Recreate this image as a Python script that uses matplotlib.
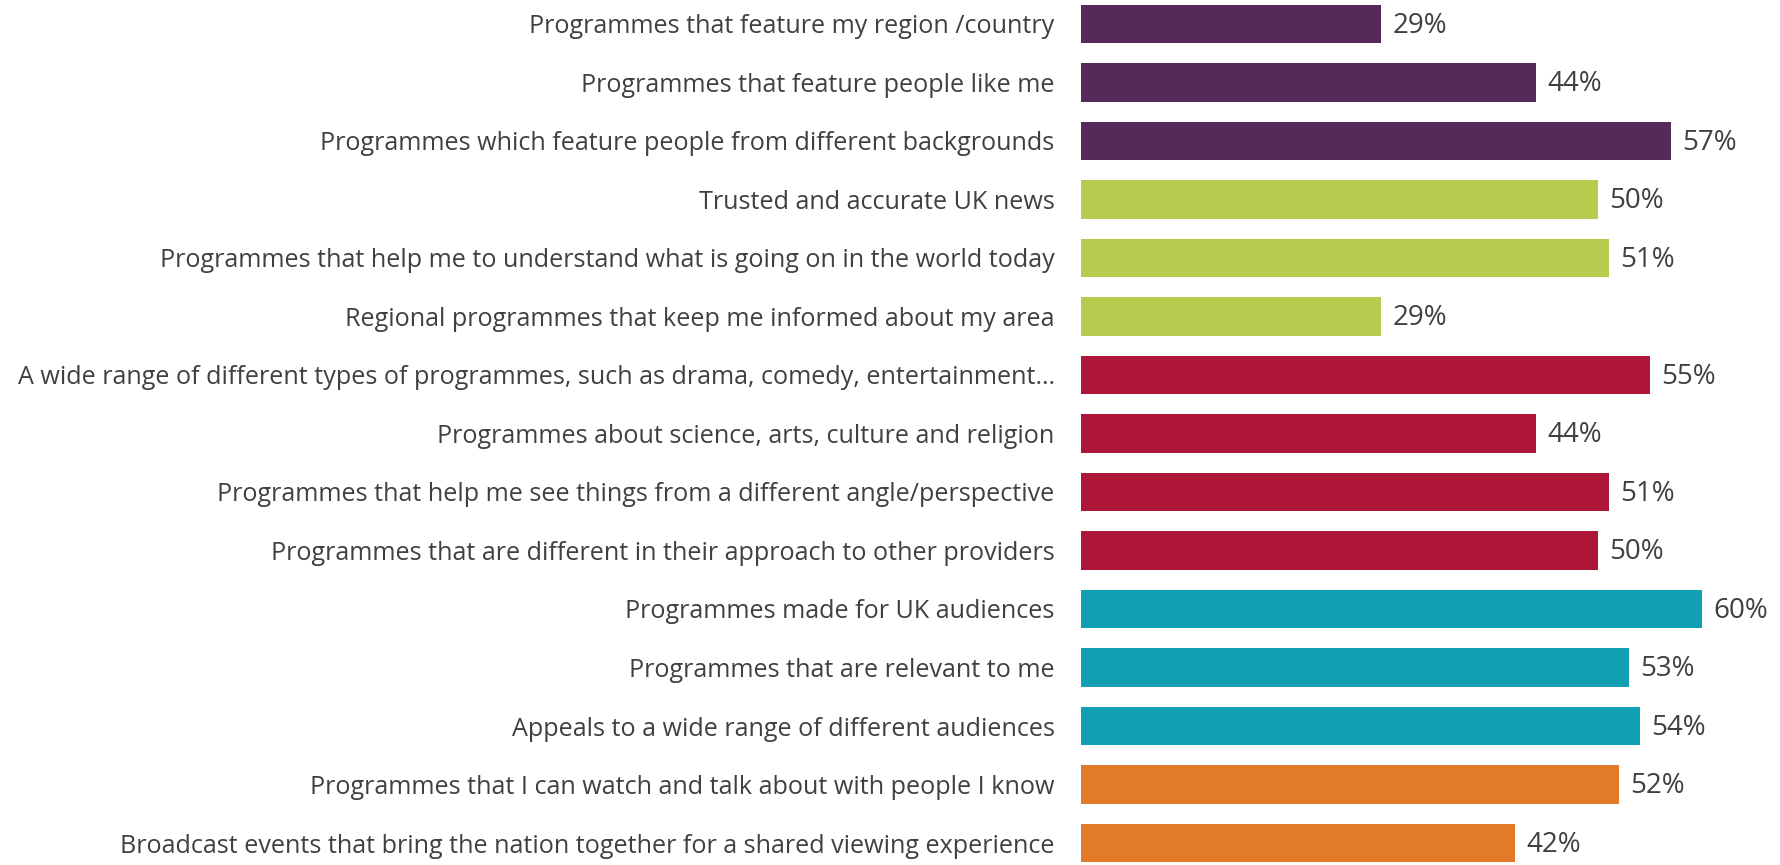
import matplotlib
matplotlib.use("Agg")
import matplotlib.pyplot as plt

categories = [
    "Programmes that feature my region /country",
    "Programmes that feature people like me",
    "Programmes which feature people from different backgrounds",
    "Trusted and accurate UK news",
    "Programmes that help me to understand what is going on in the world today",
    "Regional programmes that keep me informed about my area",
    "A wide range of different types of programmes, such as drama, comedy, entertainment\u2026",
    "Programmes about science, arts, culture and religion",
    "Programmes that help me see things from a different angle/perspective",
    "Programmes that are different in their approach to other providers",
    "Programmes made for UK audiences",
    "Programmes that are relevant to me",
    "Appeals to a wide range of different audiences",
    "Programmes that I can watch and talk about with people I know",
    "Broadcast events that bring the nation together for a shared viewing experience",
]
values = [29, 44, 57, 50, 51, 29, 55, 44, 51, 50, 60, 53, 54, 52, 42]
groups = [0, 0, 0, 1, 1, 1, 2, 2, 2, 2, 3, 3, 3, 4, 4]
group_colors = ["#55295A", "#B8CB4F", "#AD1639", "#119FB3", "#E27A2A"]

plt.rcParams['font.family'] = ['Open Sans', 'DejaVu Sans']
fig = plt.figure(figsize=(17.81, 8.65), dpi=100)
ax = fig.add_axes([0.607, 0.0, 0.385, 1.0])

ypos = list(range(len(values)))
colors = [group_colors[g] for g in groups]
ax.barh(ypos, values, height=0.66, color=colors)
for y, v in zip(ypos, values):
    ax.text(v + 1.1, y + 0.03, f"{v}%", va="center", ha="left", fontsize=20, color="#404040")

ax.set_xlim(0, 66.3)
ax.set_ylim(14.376, -0.41)
ax.set_yticks(ypos)
ax.set_yticklabels(categories, fontsize=18.1, color="#404040")
ax.tick_params(axis="y", length=0, pad=19)
ax.set_xticks([])
for s in ax.spines.values():
    s.set_visible(False)

fig.savefig("out.png", dpi=100)
